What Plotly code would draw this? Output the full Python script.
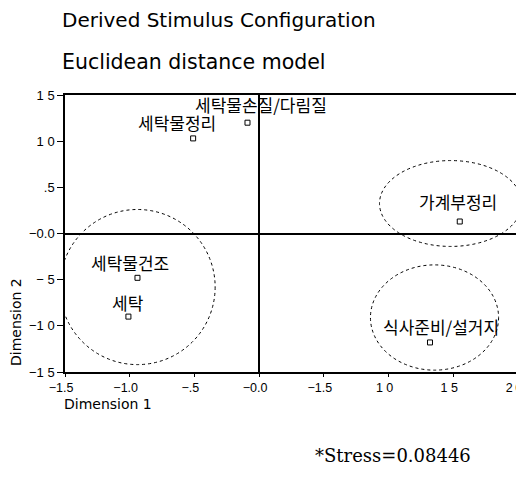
import plotly.graph_objects as go

# Data
labels = ["세탁물손질/다림질", "세탁물정리", "가계부정리", "세탁물건조", "세탁", "식사준비/설거지"]
dim1 = [-0.09, -0.51, 1.55, -0.94, -1.01, 1.32]
dim2 = [1.20, 1.03, 0.13, -0.48, -0.90, -1.18]
label_shift_x = [14, -16, -2, -7, 0, 11]
label_shift_y = [18, 16, 20, 15, 14, 16]

x_tickvals = [-1.5, -1.0, -0.5, 0.0, 0.5, 1.0, 1.5, 2.0]
x_ticktext = ["\u22121.5", "\u22121.0", "\u2212.5", "\u22120.0", "\u22121.5", "1 0", "1 5", "2\u20090"]
y_tickvals = [1.5, 1.0, 0.5, 0.0, -0.5, -1.0, -1.5]
y_ticktext = ["1 5", "1 0", ".5", "\u22120.0", "\u2212 5", "\u22121 0", "\u22121 5"]

# cluster ellipses (x0, x1, y0, y1)
clusters = [
    (-1.54, -0.34, -1.42, 0.26),
    (0.93, 2.03, -0.14, 0.79),
    (0.86, 1.85, -1.48, -0.34),
]

fig = go.Figure()
fig.add_trace(go.Scatter(
    x=dim1, y=dim2, mode="markers",
    marker=dict(symbol="square-open", size=5, color="black", line=dict(width=1)),
    hoverinfo="skip", showlegend=False, cliponaxis=False,
))

for (x0, x1, y0, y1) in clusters:
    fig.add_shape(type="circle", xref="x", yref="y", x0=x0, x1=x1, y0=y0, y1=y1,
                  line=dict(color="black", width=1, dash="dot"), layer="above")

for lab, xv, yv, sx, sy in zip(labels, dim1, dim2, label_shift_x, label_shift_y):
    fig.add_annotation(x=xv, y=yv, text=lab, showarrow=False, xshift=sx, yshift=sy,
                       font=dict(family="Noto Sans CJK KR", size=17, color="black"))

fig.add_annotation(xref="paper", yref="paper", x=-0.011, y=1.0, yshift=75,
                   text="Derived Stimulus Configuration", showarrow=False,
                   xanchor="left", yanchor="middle",
                   font=dict(family="DejaVu Sans", size=20, color="black"))
fig.add_annotation(xref="paper", yref="paper", x=-0.011, y=1.0, yshift=33,
                   text="Euclidean distance model", showarrow=False,
                   xanchor="left", yanchor="middle",
                   font=dict(family="DejaVu Sans", size=20.5, color="black"))
fig.add_annotation(xref="paper", yref="paper", x=-0.007, y=0.0, yshift=-32,
                   text="Dimension 1", showarrow=False, xanchor="left", yanchor="middle",
                   font=dict(family="DejaVu Sans", size=14, color="black"))
fig.add_annotation(xref="paper", yref="paper", x=0.0, xshift=-49, y=0.0, yshift=50,
                   text="Dimension 2", showarrow=False, textangle=-90,
                   xanchor="center", yanchor="middle",
                   font=dict(family="DejaVu Sans", size=14, color="black"))
fig.add_annotation(xref="paper", yref="paper", x=0.547, y=0.0, yshift=-83,
                   text="*Stress=0.08446", showarrow=False, xanchor="left", yanchor="middle",
                   font=dict(family="DejaVu Serif", size=18, color="black"))

axis_common = dict(showgrid=False, showline=True, mirror=True, linecolor="black", linewidth=1.5,
                   zeroline=True, zerolinecolor="black", zerolinewidth=1.5,
                   ticks="outside", tickcolor="black", ticklabeloverflow="allow",
                   automargin=False)

fig.update_xaxes(range=[-1.5, 2.0], tickvals=x_tickvals, ticktext=x_ticktext, ticklen=3,
                 ticklabelshift=-4,
                 tickfont=dict(family="Liberation Sans", size=12.5, color="black"), **axis_common)
fig.update_yaxes(range=[-1.5, 1.5], tickvals=y_tickvals, ticktext=y_ticktext, ticklen=6,
                 tickfont=dict(family="Liberation Sans", size=13, color="black"), **axis_common)

fig.update_layout(
    width=516, height=481,
    margin=dict(l=57, r=6, t=87, b=117),
    plot_bgcolor="white", paper_bgcolor="white",
    showlegend=False,
)

fig.write_html("out.html")
